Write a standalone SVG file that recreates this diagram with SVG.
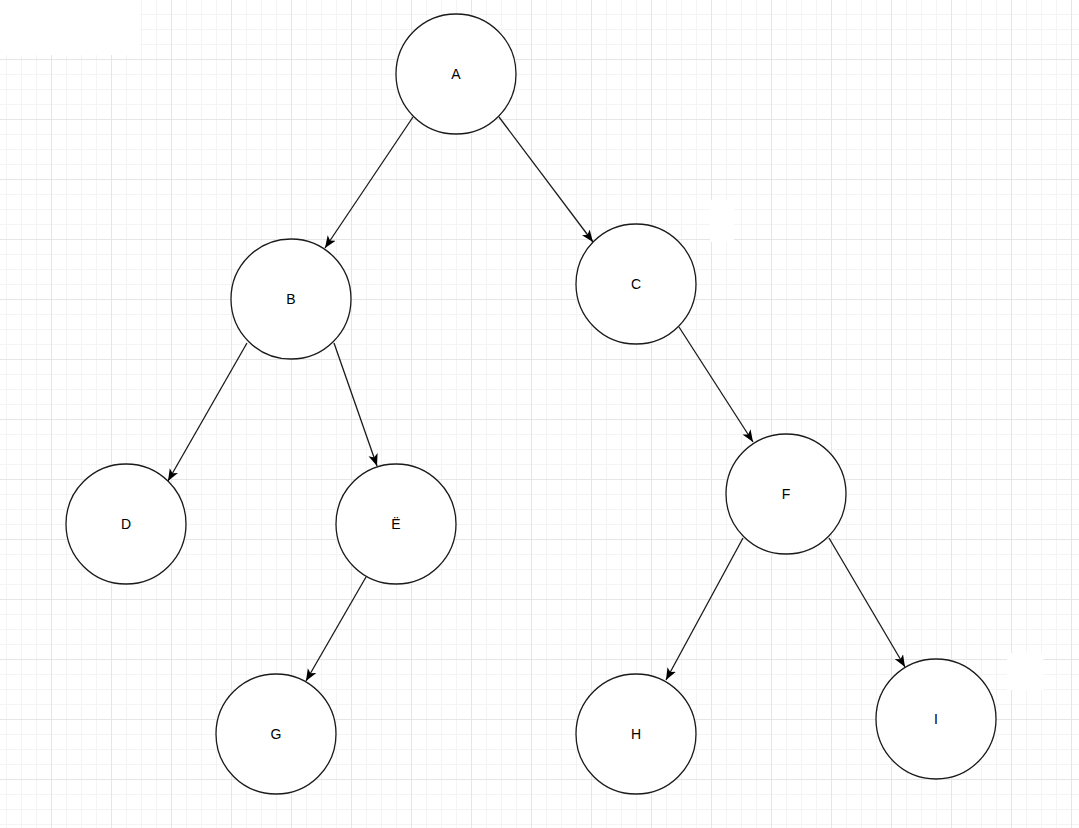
<svg xmlns="http://www.w3.org/2000/svg" width="1079" height="828" viewBox="0 0 1079 828">
  <style>
    .node circle { fill: #ffffff; stroke: #1a1a1a; stroke-width: 1.3; }
    .node text { font-family: "Liberation Sans", Arial, sans-serif; font-size: 14px; fill: #000000; text-anchor: middle; dominant-baseline: central; }
    .edge { stroke: #1a1a1a; stroke-width: 1.3; fill: none; marker-end: url(#arrow); }
  </style>
  <defs>
    <pattern id="minor" x="6" y="14" width="15" height="15" patternUnits="userSpaceOnUse">
      <rect x="0" y="0" width="1" height="15" fill="#f4f4f4"/>
      <rect x="0" y="0" width="15" height="1" fill="#f4f4f4"/>
    </pattern>
    <pattern id="major" x="51" y="59" width="60" height="60" patternUnits="userSpaceOnUse">
      <rect x="0" y="0" width="1" height="60" fill="#e6e6e6"/>
      <rect x="0" y="0" width="60" height="1" fill="#e6e6e6"/>
    </pattern>
    <marker id="arrow" viewBox="0 0 10 8" refX="10" refY="4" markerWidth="12" markerHeight="10" markerUnits="userSpaceOnUse" orient="auto">
      <path d="M10,4 L0,0 L2.5,4 L0,8 Z" fill="#000000"/>
    </marker>
  </defs>
  <rect width="1079" height="828" fill="#ffffff"/>
  <rect width="1079" height="828" fill="url(#minor)"/>
  <rect width="1079" height="828" fill="url(#major)"/>
  <rect x="0" y="0" width="140" height="55" fill="#ffffff"/>
  <rect x="710" y="200" width="24" height="42" fill="#ffffff"/>
  <rect x="1007" y="653" width="36" height="37" fill="#ffffff"/>

  <g id="connectors">
    <line class="edge" x1="413" y1="117" x2="325" y2="248"/>
    <line class="edge" x1="499" y1="117" x2="593" y2="242"/>
    <line class="edge" x1="247" y1="343" x2="168" y2="481"/>
    <line class="edge" x1="334" y1="343" x2="377" y2="466"/>
    <line class="edge" x1="679" y1="327" x2="753" y2="442"/>
    <line class="edge" x1="366" y1="577" x2="306" y2="681"/>
    <line class="edge" x1="743" y1="538" x2="666" y2="680"/>
    <line class="edge" x1="829" y1="538" x2="905" y2="667"/>
  </g>

  <g id="node-A" class="node"><circle cx="456" cy="74" r="60"/><text x="456" y="74">A</text></g>
  <g id="node-B" class="node"><circle cx="291" cy="299" r="60"/><text x="291" y="299">B</text></g>
  <g id="node-C" class="node"><circle cx="636" cy="284" r="60"/><text x="636" y="284">C</text></g>
  <g id="node-D" class="node"><circle cx="126" cy="524" r="60"/><text x="126" y="524">D</text></g>
  <g id="node-E" class="node"><circle cx="396" cy="524" r="60"/><text x="396" y="524">Ë</text></g>
  <g id="node-F" class="node"><circle cx="786" cy="494" r="60"/><text x="786" y="494">F</text></g>
  <g id="node-G" class="node"><circle cx="276" cy="734" r="60"/><text x="276" y="734">G</text></g>
  <g id="node-H" class="node"><circle cx="636" cy="734" r="60"/><text x="636" y="734">H</text></g>
  <g id="node-I" class="node"><circle cx="936" cy="719" r="60"/><text x="936" y="719">I</text></g>
</svg>
